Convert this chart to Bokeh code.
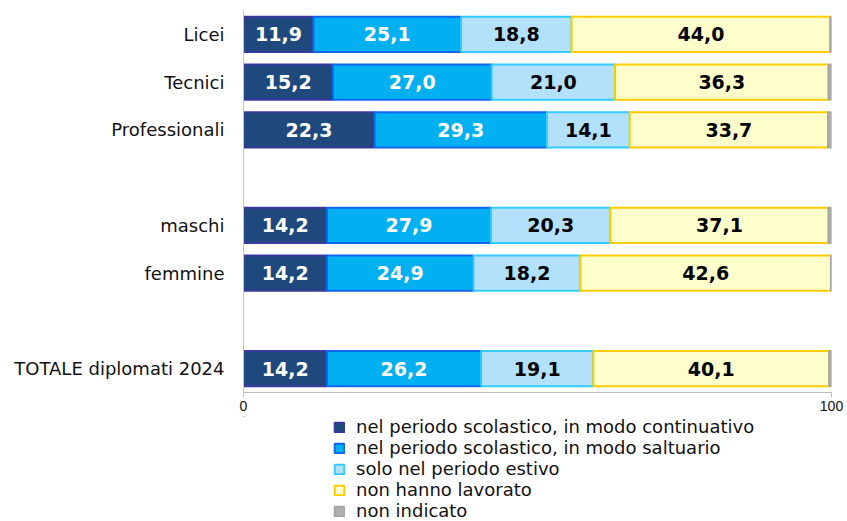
from bokeh.plotting import figure
from bokeh.layouts import column
from bokeh.models import ColumnDataSource, Range1d, FixedTicker, Legend, LegendItem
from bokeh.core.properties import value
from bokeh.embed import file_html
from bokeh.resources import INLINE

categories = ["Licei", "Tecnici", "Professionali", "maschi", "femmine", "TOTALE diplomati 2024"]
slots = [0, 1, 2, 4, 5, 7]
continuativo = [11.9, 15.2, 22.3, 14.2, 14.2, 14.2]
saltuario = [25.1, 27.0, 29.3, 27.9, 24.9, 26.2]
estivo = [18.8, 21.0, 14.1, 20.3, 18.2, 19.1]
non_lavorato = [44.0, 36.3, 33.7, 37.1, 42.6, 40.1]
non_indicato = [0.2, 0.5, 0.6, 0.5, 0.1, 0.4]

series_names = [
    "nel periodo scolastico, in modo continuativo",
    "nel periodo scolastico, in modo saltuario",
    "solo nel periodo estivo",
    "non hanno lavorato",
    "non indicato",
]
series_values = [continuativo, saltuario, estivo, non_lavorato, non_indicato]
fills = ["#1F497D", "#00B0F0", "#B3E0FB", "#FFFFCC", "#B0B0B0"]
borders = ["#3A3A9E", "#1166EE", "#33CCFF", "#FFCC00", "#A6A6A6"]
text_colors = ["white", "white", "black", "black", None]

p = figure(width=847, height=416, output_backend="svg", toolbar_location=None,
           x_range=Range1d(0, 100), y_range=Range1d(7.5, -0.5),
           min_border_left=243, min_border_right=16, min_border_top=10,
           min_border_bottom=24)
p.outline_line_color = None
p.xgrid.visible = False
p.ygrid.visible = False
p.background_fill_color = "white"
p.border_fill_color = "white"

font = value("DejaVu Sans")
lefts = [0.0] * len(categories)
for name, vals, fc, lc, tc in zip(series_names, series_values, fills, borders, text_colors):
    rights = [l + v for l, v in zip(lefts, vals)]
    src = ColumnDataSource(dict(
        y=slots, left=lefts, right=rights,
        mid=[(l + r) / 2 for l, r in zip(lefts, rights)],
        lab=[f"{v:.1f}".replace(".", ",") for v in vals],
    ))
    p.hbar(y="y", left="left", right="right", height=0.74, source=src,
           fill_color=fc, line_color=lc, line_width=2)
    if tc is not None:
        p.text(x="mid", y="y", text="lab", source=src, text_align="center",
               text_baseline="middle", text_color=tc, text_font=font,
               text_font_style="bold", text_font_size="19px")
    lefts = rights

# axes
p.yaxis.ticker = FixedTicker(ticks=slots)
p.yaxis.major_label_overrides = {s: c for s, c in zip(slots, categories)}
p.yaxis.major_tick_out = 0
p.yaxis.major_tick_in = 0
p.yaxis.minor_tick_out = 0
p.yaxis.minor_tick_in = 0
p.yaxis.axis_line_color = "#C8C8C8"
p.yaxis.major_label_standoff = 19
p.yaxis.major_label_text_font = "DejaVu Sans"
p.yaxis.major_label_text_font_size = "18px"
p.yaxis.major_label_text_color = "#111111"

p.xaxis.ticker = FixedTicker(ticks=[0, 100])
p.xaxis.axis_line_color = "#BEBEBE"
p.xaxis.major_tick_line_color = "#BEBEBE"
p.xaxis.major_tick_out = 5
p.xaxis.major_tick_in = 0
p.xaxis.minor_tick_out = 0
p.xaxis.minor_tick_in = 0
p.xaxis.major_label_standoff = 3
p.xaxis.major_label_text_font = "Liberation Sans"
p.xaxis.major_label_text_font_size = "14px"
p.xaxis.major_label_text_color = "#111111"

# legend panel (separate figure below the chart; its frame aligns with the chart's)
leg_fig = figure(width=847, height=105, output_backend="svg", toolbar_location=None,
                 x_range=Range1d(0, 1), y_range=Range1d(0, 1),
                 min_border_left=0, min_border_right=0, min_border_top=0, min_border_bottom=0)
leg_fig.axis.visible = False
leg_fig.grid.visible = False
leg_fig.outline_line_color = None
leg_fig.border_fill_color = "white"

items = []
for name, fc, lc in zip(series_names, fills, borders):
    # zero-size swatch source outside the visible range: only the legend shows it
    r = leg_fig.hbar(y=[5], left=[0], right=[0], height=0.5,
                     fill_color=fc, line_color=lc, line_width=2)
    items.append(LegendItem(label=name, renderers=[r]))

legend = Legend(items=items, location=(90, 0), orientation="vertical",
                glyph_width=12, glyph_height=12, label_standoff=11,
                label_height=20, spacing=0, padding=0, margin=0,
                border_line_color=None, background_fill_alpha=0,
                label_text_font="DejaVu Sans", label_text_font_size="18px",
                label_text_color="#111111")
leg_fig.add_layout(legend, "center")

layout = column(p, leg_fig, spacing=0)
open("out.html", "w").write(file_html(layout, INLINE))
